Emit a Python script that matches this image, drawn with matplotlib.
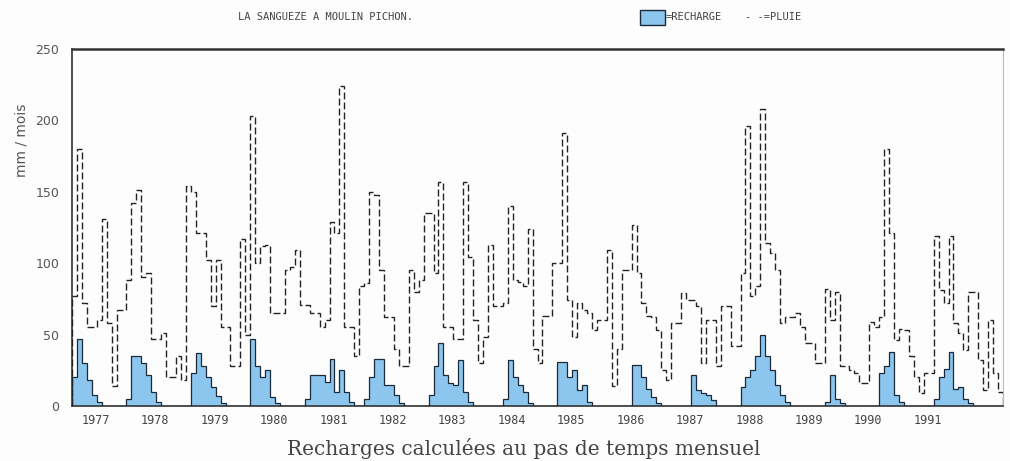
import numpy as np
import matplotlib
matplotlib.use("Agg")
import matplotlib.pyplot as plt
from matplotlib.patches import Rectangle

# Monthly rainfall (mm/mois)
pluie = [
    77, 180, 72, 55, 55, 60, 131, 58, 14, 67,
    67, 88, 142, 151, 90, 93, 47, 47, 51, 20,
    20, 35, 18, 154, 150, 121, 121, 102, 70, 102,
    55, 55, 28, 28, 117, 50, 203, 100, 112, 113,
    65, 65, 65, 95, 97, 109, 71, 71, 65, 65,
    55, 60, 129, 121, 224, 55, 55, 35, 84, 86,
    150, 148, 95, 62, 62, 40, 28, 28, 95, 80,
    88, 135, 135, 93, 157, 55, 55, 47, 47, 157,
    104, 60, 30, 48, 113, 70, 70, 72, 140, 88,
    87, 84, 124, 40, 30, 63, 63, 100, 100, 191,
    74, 48, 72, 67, 65, 53, 60, 60, 109, 14,
    40, 95, 95, 127, 93, 72, 63, 62, 53, 25,
    18, 58, 58, 79, 74, 74, 70, 30, 60, 60,
    28, 70, 70, 42, 42, 93, 196, 77, 84, 208,
    114, 107, 95, 58, 62, 62, 65, 55, 44, 44,
    30, 30, 82, 60, 80, 28, 28, 25, 23, 16,
    16, 59, 55, 62, 180, 121, 46, 54, 53, 35,
    20, 9, 23, 23, 119, 81, 72, 119, 58, 51,
    39, 80, 80, 32, 11, 60, 23, 10,
]

# Monthly computed recharge (mm/mois)
recharge = [
    20, 47, 30, 18, 8, 3, 0, 0, 0, 0,
    0, 5, 35, 35, 30, 22, 10, 3, 0, 0,
    0, 0, 0, 0, 23, 37, 28, 20, 13, 7,
    2, 0, 0, 0, 0, 0, 47, 28, 20, 25,
    6, 2, 0, 0, 0, 0, 0, 5, 22, 22,
    22, 17, 33, 10, 25, 10, 3, 0, 0, 5,
    20, 33, 33, 15, 15, 8, 2, 0, 0, 0,
    0, 0, 8, 28, 44, 22, 16, 15, 32, 10,
    3, 0, 0, 0, 0, 0, 0, 5, 32, 20,
    15, 10, 2, 0, 0, 0, 0, 0, 31, 31,
    20, 25, 11, 15, 3, 0, 0, 0, 0, 0,
    0, 0, 0, 29, 29, 20, 12, 6, 2, 0,
    0, 0, 0, 0, 0, 22, 11, 9, 8, 4,
    0, 0, 0, 0, 0, 13, 20, 25, 35, 50,
    35, 25, 15, 8, 3, 0, 0, 0, 0, 0,
    0, 0, 3, 22, 5, 2, 0, 0, 0, 0,
    0, 0, 0, 23, 28, 38, 8, 3, 0, 0,
    0, 0, 0, 0, 5, 20, 26, 38, 12, 13,
    5, 2, 0, 0, 0, 0, 0, 0,
]

annees = [str(y) for y in range(1977, 1992)]
y_ticks = [0, 50, 100, 150, 200, 250]

n = len(pluie)
edges = np.arange(n + 1)

fig = plt.figure(figsize=(10.10, 4.61), dpi=100)
fig.patch.set_facecolor("#fdfdfd")
ax = fig.add_axes([72 / 1010, 1 - 406 / 461, (1003 - 72) / 1010, (406 - 49) / 461])
ax.set_facecolor("#fdfdfd")

# recharge fill
ax.stairs(recharge, edges, fill=True, color="#8cc6ee", zorder=2)
ax.stairs(recharge, edges, color="#1a2a3a", linewidth=0.9, zorder=3)
# rainfall dashed
ax.stairs(pluie, edges, color="#222222", linewidth=1.0,
          linestyle=(0, (5, 2.2)), zorder=4)

ax.set_xlim(0, n)
ax.set_ylim(0, 250)

ax.set_yticks(y_ticks)
ax.set_yticklabels([str(v) for v in y_ticks], fontsize=9, color="#555555",
                   family="DejaVu Sans")
ax.tick_params(axis="y", length=0, pad=9)

tick_pos = [4.8 + 12 * i for i in range(len(annees))]
ax.set_xticks(tick_pos)
ax.set_xticklabels(annees, fontsize=8.5, color="#444444", family="DejaVu Sans Mono")
ax.tick_params(axis="x", length=0, pad=6)

for side in ["left", "bottom"]:
    ax.spines[side].set_color("#333333")
    ax.spines[side].set_linewidth(1.2)
ax.spines["top"].set_color("#333333")
ax.spines["top"].set_linewidth(1.8)
ax.spines["right"].set_color("#bbbbbb")
ax.spines["right"].set_linewidth(0.8)

ax.set_ylabel("mm / mois", fontsize=10, color="#555555", family="DejaVu Sans")
ax.yaxis.set_label_coords(-0.047, 0.745)

ax.set_xlabel("Recharges calculées au pas de temps mensuel", fontsize=14.5,
              color="#444444", family="DejaVu Serif")
ax.xaxis.label.set_va("center")
ax.xaxis.set_label_coords(0.485, -0.12)

# title and legend
fig.text(325 / 1010, 1 - 17 / 461, "LA SANGUEZE A MOULIN PICHON.", ha="center",
         va="center", fontsize=7.5, color="#444444", family="DejaVu Sans Mono")
fig.patches.append(Rectangle((640 / 1010, 1 - 25 / 461), 25 / 1010, 15 / 461,
                             transform=fig.transFigure, facecolor="#8cc6ee",
                             edgecolor="#1a2a3a", linewidth=1.0))
fig.text(666 / 1010, 1 - 17 / 461, "=RECHARGE", ha="left", va="center",
         fontsize=7.5, color="#444444", family="DejaVu Sans Mono")
fig.text(745 / 1010, 1 - 17 / 461, "- -=PLUIE", ha="left", va="center",
         fontsize=7.5, color="#444444", family="DejaVu Sans Mono")

fig.savefig("out.png", dpi=100, facecolor=fig.get_facecolor())
